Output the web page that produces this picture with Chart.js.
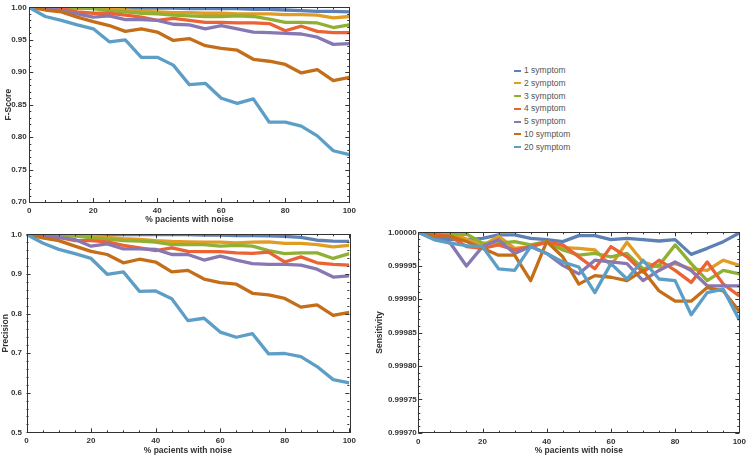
<!DOCTYPE html>
<html>
<head>
<meta charset="utf-8">
<script src="https://cdn.jsdelivr.net/npm/chart.js@4.4.1/dist/chart.umd.min.js"></script>
<style>
  body { margin: 0; background: #fff; }
  #wrap { position: relative; width: 750px; height: 456px; overflow: hidden; }
  canvas { position: absolute; }
  #legend { position: absolute; left: 514px; top: 64px; font-family: "Liberation Sans", Arial, sans-serif; font-size: 8.5px; color: #555; }
  .item { position: relative; height: 12.8px; line-height: 12.8px; white-space: nowrap; }
  .item span.sw { position: absolute; left: 0; top: 5.5px; width: 7px; height: 2px; }
  .item span.tx { position: absolute; left: 10px; top: 0; }
</style>
</head>
<body>
<div id="wrap">
  <canvas id="chartF" width="360" height="228" style="left:0;top:0;width:360px;height:228px"></canvas>
  <canvas id="chartP" width="360" height="231" style="left:0;top:225px;width:360px;height:231px"></canvas>
  <canvas id="chartS" width="380" height="231" style="left:370px;top:225px;width:380px;height:231px"></canvas>
  <div id="legend"></div>
</div>
<script>
// x values: % pacients with noise
var noise = [0, 5, 10, 15, 20, 25, 30, 35, 40, 45, 50, 55, 60, 65, 70, 75, 80, 85, 90, 95, 100];

var seriesLabels = ["1 symptom", "2 symptom", "3 symptom", "4 symptom", "5 symptom", "10 symptom", "20 symptom"];
var seriesColors = ['#5E81B5', '#E19C24', '#8FB032', '#EB6235', '#8778B3', '#C56E1A', '#5D9EC7'];

// tick labels
var xTickLabels = ["0", "20", "40", "60", "80", "100"];
var fTickLabels = ["0.70", "0.75", "0.80", "0.85", "0.90", "0.95", "1.00"];
var pTickLabels = ["0.5", "0.6", "0.7", "0.8", "0.9", "1.0"];
var sTickLabels = ["0.99970", "0.99975", "0.99980", "0.99985", "0.99990", "0.99995", "1.00000"];

// F-Score
var f1 = [1.000, 1.000, 1.000, 1.000, 0.999, 0.999, 0.999, 0.999, 0.999, 0.999, 0.998, 0.998, 0.998, 0.998, 0.997, 0.997, 0.996, 0.995, 0.994, 0.994, 0.993];
var f2 = [1.000, 1.000, 1.000, 0.999, 0.999, 0.998, 0.996, 0.994, 0.993, 0.992, 0.992, 0.991, 0.991, 0.990, 0.990, 0.990, 0.989, 0.989, 0.988, 0.984, 0.986];
var f3 = [1.000, 1.000, 0.999, 0.999, 0.998, 0.995, 0.993, 0.991, 0.990, 0.988, 0.987, 0.986, 0.986, 0.987, 0.986, 0.982, 0.977, 0.977, 0.976, 0.969, 0.973];
var f4 = [1.000, 0.998, 0.998, 0.993, 0.991, 0.991, 0.988, 0.985, 0.980, 0.983, 0.980, 0.977, 0.977, 0.976, 0.976, 0.975, 0.964, 0.971, 0.963, 0.961, 0.961];
var f5 = [1.000, 0.999, 0.995, 0.990, 0.985, 0.987, 0.981, 0.981, 0.980, 0.974, 0.973, 0.967, 0.972, 0.967, 0.962, 0.961, 0.960, 0.959, 0.954, 0.943, 0.944];
var f10 = [1.000, 0.996, 0.993, 0.985, 0.978, 0.972, 0.963, 0.967, 0.962, 0.949, 0.952, 0.941, 0.937, 0.934, 0.920, 0.917, 0.912, 0.899, 0.904, 0.887, 0.892];
var f20 = [1.000, 0.986, 0.980, 0.973, 0.967, 0.947, 0.950, 0.923, 0.923, 0.911, 0.881, 0.883, 0.860, 0.852, 0.859, 0.823, 0.823, 0.817, 0.802, 0.779, 0.773];

// Precision
var p1 = [1.000, 1.000, 1.000, 1.000, 1.000, 0.999, 0.999, 0.999, 0.999, 0.999, 0.999, 0.998, 0.998, 0.997, 0.997, 0.996, 0.995, 0.992, 0.985, 0.983, 0.982];
var p2 = [1.000, 0.999, 0.998, 0.997, 0.995, 0.992, 0.989, 0.987, 0.984, 0.982, 0.981, 0.980, 0.980, 0.978, 0.980, 0.981, 0.977, 0.977, 0.974, 0.968, 0.972];
var p3 = [1.000, 0.999, 0.998, 0.996, 0.991, 0.988, 0.984, 0.983, 0.980, 0.974, 0.974, 0.974, 0.970, 0.972, 0.970, 0.959, 0.951, 0.953, 0.953, 0.939, 0.951];
var p4 = [1.000, 0.995, 0.992, 0.984, 0.984, 0.981, 0.972, 0.966, 0.959, 0.966, 0.957, 0.956, 0.956, 0.953, 0.952, 0.955, 0.930, 0.943, 0.928, 0.924, 0.922];
var p5 = [1.000, 0.997, 0.992, 0.987, 0.970, 0.976, 0.963, 0.963, 0.962, 0.949, 0.949, 0.935, 0.945, 0.935, 0.926, 0.924, 0.924, 0.922, 0.912, 0.892, 0.895];
var p10 = [1.000, 0.991, 0.984, 0.970, 0.957, 0.949, 0.928, 0.937, 0.930, 0.905, 0.909, 0.887, 0.878, 0.874, 0.851, 0.847, 0.838, 0.816, 0.822, 0.795, 0.803];
var p20 = [1.000, 0.978, 0.962, 0.951, 0.939, 0.899, 0.905, 0.856, 0.857, 0.837, 0.782, 0.788, 0.753, 0.740, 0.749, 0.698, 0.699, 0.691, 0.666, 0.633, 0.625];

// Sensitivity
var s1 = [1.0, 0.999991, 0.999989, 0.999989, 0.999991, 0.999996, 0.999996, 0.999991, 0.999989, 0.999986, 0.999995, 0.999995, 0.999989, 0.999991, 0.999989, 0.999987, 0.999989, 0.999967, 0.999976, 0.999986, 0.999999];
var s2 = [1.0, 0.9999964, 0.999999, 0.9999898, 0.9999801, 0.9999939, 0.999976, 0.9999786, 0.9999852, 0.999977, 0.999976, 0.9999735, 0.9999505, 0.9999852, 0.9999556, 0.999948, 0.9999531, 0.9999454, 0.9999429, 0.9999582, 0.9999505];
var s3 = [1.0, 0.9999974, 0.9999964, 0.9999974, 0.9999837, 0.9999837, 0.9999862, 0.9999811, 0.9999862, 0.9999735, 0.9999658, 0.9999684, 0.9999633, 0.9999684, 0.9999454, 0.9999505, 0.9999811, 0.9999531, 0.9999276, 0.9999429, 0.9999378];
var s4 = [1.0, 0.9999964, 0.9999939, 0.9999786, 0.999976, 0.9999811, 0.9999735, 0.9999786, 0.9999852, 0.9999811, 0.9999633, 0.9999454, 0.9999786, 0.9999633, 0.9999403, 0.9999582, 0.9999429, 0.999925, 0.9999556, 0.9999224, 0.9999046];
var s5 = [1.0, 0.9999913, 0.9999837, 0.9999495, 0.9999786, 0.9999888, 0.9999684, 0.9999786, 0.9999684, 0.9999505, 0.9999378, 0.9999582, 0.9999556, 0.9999531, 0.9999276, 0.9999429, 0.9999556, 0.9999429, 0.9999199, 0.9999199, 0.9999199];
var s10 = [1.0, 0.9999939, 0.9999939, 0.9999862, 0.999976, 0.9999658, 0.9999658, 0.9999276, 0.9999862, 0.9999633, 0.9999224, 0.9999352, 0.9999327, 0.9999276, 0.9999429, 0.9999122, 0.9998969, 0.9998969, 0.9999173, 0.9999122, 0.9998816];
var s20 = [1.0, 0.9999888, 0.9999837, 0.9999801, 0.9999786, 0.9999454, 0.9999429, 0.9999786, 0.9999684, 0.9999556, 0.999948, 0.9999097, 0.9999531, 0.9999301, 0.9999582, 0.9999301, 0.9999276, 0.9998765, 0.9999097, 0.9999148, 0.9998689];

var fontFam = '"Liberation Sans", Arial, sans-serif';

// frame around the plot with small ticks pointing inwards (Mathematica style)
var frameTicks = {
    id: 'frameTicks',
    afterDatasetsDraw: function (chart, args, opts) {
        var ctx = chart.ctx;
        var a = chart.chartArea;
        var xs = chart.scales.x, ys = chart.scales.y;
        ctx.save();
        ctx.strokeStyle = '#333';
        ctx.lineWidth = 1;
        ctx.beginPath();
        var i, v, px, len;
        var xStep = opts.xMajor / opts.xSub;
        var nx = Math.round((xs.max - xs.min) / xStep);
        for (i = 0; i <= nx; i++) {
            v = xs.min + i * xStep;
            px = Math.round(xs.getPixelForValue(v)) + 0.5;
            len = (i % opts.xSub === 0) ? 4 : 2;
            ctx.moveTo(px, a.bottom); ctx.lineTo(px, a.bottom - len);
            ctx.moveTo(px, a.top); ctx.lineTo(px, a.top + len);
        }
        var yStep = opts.yMajor / opts.ySub;
        var ny = Math.round((ys.max - ys.min) / yStep);
        for (i = 0; i <= ny; i++) {
            v = ys.min + i * yStep;
            px = Math.round(ys.getPixelForValue(v)) + 0.5;
            len = (i % opts.ySub === 0) ? 4 : 2;
            ctx.moveTo(a.left, px); ctx.lineTo(a.left + len, px);
            ctx.moveTo(a.right, px); ctx.lineTo(a.right - len, px);
        }
        ctx.stroke();
        ctx.strokeRect(Math.round(a.left) + 0.5, Math.round(a.top) + 0.5,
            Math.round(a.right - a.left), Math.round(a.bottom - a.top));
        ctx.restore();
    }
};

function buildSets(list) {
    return list.map(function (vals, i) {
        return {
            label: seriesLabels[i],
            data: vals.map(function (v, j) { return { x: noise[j], y: v }; }),
            borderColor: seriesColors[i],
            backgroundColor: seriesColors[i],
            borderWidth: 3.3,
            borderJoinStyle: 'round',
            pointRadius: 0,
            tension: 0,
            fill: false,
            order: list.length - i
        };
    });
}

function makeChart(id, sets, yLabels, yTitle, cfg) {
    var yVals = yLabels.map(parseFloat);
    var xVals = xTickLabels.map(parseFloat);
    return new Chart(document.getElementById(id).getContext('2d'), {
        type: 'line',
        data: { datasets: buildSets(sets) },
        options: {
            responsive: false,
            animation: false,
            layout: { autoPadding: false, padding: cfg.pad },
            plugins: {
                legend: { display: false },
                tooltip: { enabled: false },
                frameTicks: { xMajor: 20, xSub: 4, yMajor: yVals[1] - yVals[0], ySub: 5 }
            },
            scales: {
                x: {
                    type: 'linear',
                    min: 0,
                    max: 100,
                    afterBuildTicks: function (s) { s.ticks = xVals.map(function (v) { return { value: v }; }); },
                    afterFit: function (s) { s.height = cfg.xh; },
                    grid: { display: false, drawTicks: false },
                    border: { display: false },
                    ticks: {
                        autoSkip: false, maxRotation: 0, padding: 4, color: '#333',
                        font: { family: fontFam, size: 8, weight: 'bold' },
                        callback: function (v, i) { return xTickLabels[i]; }
                    },
                    title: {
                        display: true, text: '% pacients with noise', color: '#333',
                        font: { family: fontFam, size: 8.5, weight: 'bold' },
                        padding: { top: 0, bottom: cfg.xtp }
                    }
                },
                y: {
                    type: 'linear',
                    min: yVals[0],
                    max: yVals[yVals.length - 1],
                    afterBuildTicks: function (s) { s.ticks = yVals.map(function (v) { return { value: v }; }); },
                    afterFit: function (s) { s.width = cfg.yw; },
                    grid: { display: false, drawTicks: false },
                    border: { display: false },
                    ticks: {
                        autoSkip: false, padding: cfg.ytp, color: '#333',
                        font: { family: fontFam, size: 8, weight: 'bold' },
                        callback: function (v, i) { return yLabels[i]; }
                    },
                    title: {
                        display: true, text: yTitle, color: '#333',
                        font: { family: fontFam, size: 8.5, weight: 'bold' },
                        padding: { top: cfg.ttp, bottom: 0 }
                    }
                }
            }
        },
        plugins: [frameTicks]
    });
}

makeChart('chartF', [f1, f2, f3, f4, f5, f10, f20], fTickLabels, 'F-Score',
    { pad: { top: 5, right: 10.7, bottom: 0, left: 0 }, xh: 26, yw: 29.3, xtp: 3, ytp: 2.6, ttp: 4 });

makeChart('chartP', [p1, p2, p3, p4, p5, p10, p20], pTickLabels, 'Precision',
    { pad: { top: 6.3, right: 9, bottom: 0, left: 0 }, xh: 23.7, yw: 26.5, xtp: 0, ytp: 4.5, ttp: 0.5 });

makeChart('chartS', [s1, s2, s3, s4, s5, s10, s20], sTickLabels, 'Sensitivity',
    { pad: { top: 7.3, right: 9, bottom: 0, left: 0 }, xh: 23.3, yw: 48.3, xtp: 0, ytp: 1.5, ttp: 4.5 });

// legend
var legend = document.getElementById('legend');
seriesLabels.forEach(function (name, i) {
    var row = document.createElement('div');
    row.className = 'item';
    row.innerHTML = '<span class="sw" style="background:' + seriesColors[i] + '"></span><span class="tx">' + name + '</span>';
    legend.appendChild(row);
});
</script>
</body>
</html>
